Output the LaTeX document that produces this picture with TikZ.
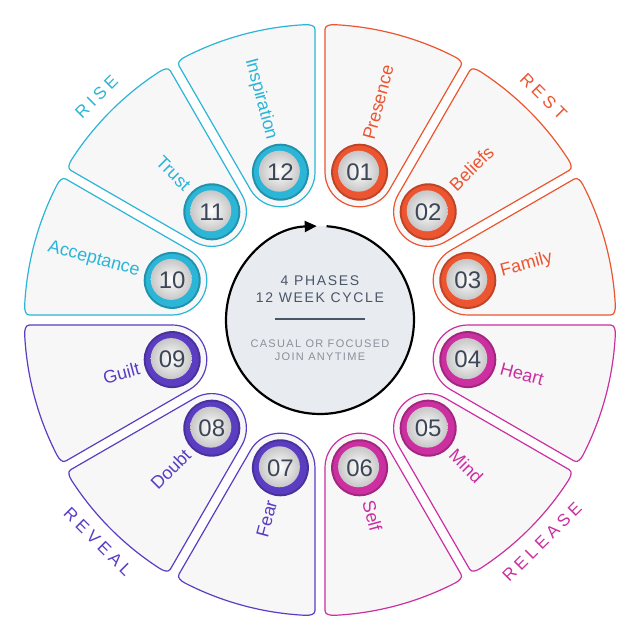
\documentclass[tikz,border=0pt]{standalone}
\usepackage{fontspec}
\setmainfont{Liberation Sans}
\usetikzlibrary{arrows.meta}
\definecolor{cRise}{HTML}{2BB5D6}
\definecolor{cRest}{HTML}{EC5530}
\definecolor{cRel}{HTML}{CB2FA0}
\definecolor{cRev}{HTML}{5B3DC2}
\definecolor{segfill}{HTML}{F7F7F8}
\definecolor{numtxt}{HTML}{3C4656}
\definecolor{slate}{HTML}{4A5568}
\definecolor{lgray}{HTML}{8A909A}
\tikzset{
  seg/.style={draw=#1, line width=1.2pt, fill=segfill, line join=round},
  lbl/.style={text=#1, font=\fontsize{18}{18}\selectfont, inner sep=0pt},
  phase/.style={text=#1, font=\fontsize{17}{17}\selectfont\addfontfeature{LetterSpace=25}, inner sep=0pt},
  numtext/.style={text=numtxt, font=\fontsize{24}{24}\selectfont, inner sep=0pt}
}
\newcommand{\mkseg}[5]{% angle, colour, number, label, side(1 right, 0 left)
  \begin{scope}[rotate=#1]
    \path[seg=#2] (144.05pt,-33.42pt)
      arc[start angle=255,end angle=105,radius=34.6pt]
      -- (282.0pt,70.4pt)
      to[out=15,in=104] (289.0pt,62.5pt)
      arc[start angle=12.2,end angle=-12.2,radius=295.7pt]
      to[out=-104,in=-15] (282.0pt,-70.4pt)
      -- cycle;
  \end{scope}
  \fill[#2!80!black] (#1:153pt) circle[radius=28.5pt];
  \fill[#2] (#1:153pt) circle[radius=26.5pt];
  \shade[inner color=white, outer color=black!22] ([shift={(-1pt,1pt)}]#1:153pt) circle[radius=20.5pt];
  \node[numtext] (n#3) at (#1:153pt) {#3};
  \ifnum#5=1
    \node[lbl=#2, rotate=#1, anchor=west] (l#3) at (#1:187pt) {#4};
  \else
    \node[lbl=#2, rotate=#1+180, anchor=east] (l#3) at (#1:187pt) {#4};
  \fi
}
\begin{document}
\begin{tikzpicture}
\useasboundingbox (-320pt,-320pt) rectangle (320pt,320pt);
\fill[white] (-320pt,-320pt) rectangle (320pt,320pt);
\mkseg{75}{cRest}{01}{Presence}{1}
\mkseg{45}{cRest}{02}{Beliefs}{1}
\mkseg{15}{cRest}{03}{Family}{1}
\mkseg{-15}{cRel}{04}{Heart}{1}
\mkseg{-45}{cRel}{05}{Mind}{1}
\mkseg{-75}{cRel}{06}{Self}{1}
\mkseg{-105}{cRev}{07}{Fear}{0}
\mkseg{-135}{cRev}{08}{Doubt}{0}
\mkseg{-165}{cRev}{09}{Guilt}{0}
\mkseg{165}{cRise}{10}{Acceptance}{0}
\mkseg{135}{cRise}{11}{Trust}{0}
\mkseg{105}{cRise}{12}{Inspiration}{0}
% phase labels
\node[phase=cRise, rotate=45] (pRise) at (135:316pt) {RISE};
\node[phase=cRest, rotate=-45] (pRest) at (45:316pt) {REST};
\node[phase=cRel, rotate=45] (pRel) at (-45:314pt) {RELEASE};
\node[phase=cRev, rotate=-45] (pRev) at (-135:314pt) {REVEAL};
% centre
\fill[fill={rgb,255:red,232;green,236;blue,240}] (0,0) circle[radius=94pt];
\draw[line width=2.2pt, -{Triangle[length=12pt,width=11pt]}] (86:94pt) arc[start angle=86,end angle=-268,radius=94pt];
\node[text=slate, font=\fontsize{14}{17}\selectfont\addfontfeature{LetterSpace=12}, align=center] (t1) at (0pt,31pt) {4 PHASES\\12 WEEK CYCLE};
\draw[slate, line width=2.5pt] (-45pt,1pt) -- (45pt,1pt);
\node[text=lgray, font=\fontsize{11}{13.5}\selectfont\addfontfeature{LetterSpace=12}, align=center] (t2) at (0pt,-30pt) {CASUAL OR FOCUSED\\JOIN ANYTIME};
\end{tikzpicture}
\end{document}
